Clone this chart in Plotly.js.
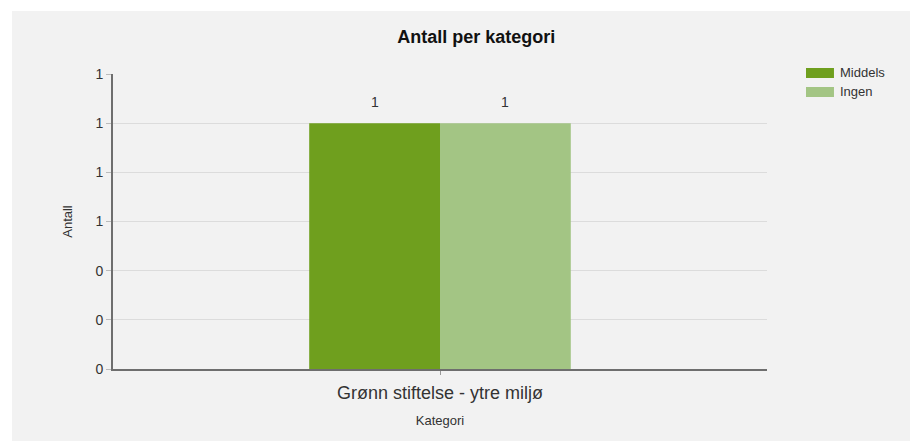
<!DOCTYPE html>
<html>
<head>
<meta charset="utf-8">
<script src="https://cdn.plot.ly/plotly-3.0.1.min.js"></script>
<style>
html,body{margin:0;padding:0;background:#ffffff;overflow:hidden;}
#chart{position:absolute;left:12px;top:11px;width:898px;height:430px;}
</style>
</head>
<body>
<div id="chart"></div>
<script>
const categories = ["Grønn stiftelse - ytre miljø"];
const seriesNames = ["Middels", "Ingen"];
const middelsValues = [1];
const ingenValues = [1];
const yTickValues = [0, 0.2, 0.4, 0.6, 0.8, 1.0, 1.2];
const seriesColors = ["#6f9f1e", "#a3c584"];

const font = "Liberation Sans, Arial, sans-serif";
const seriesValues = [middelsValues, ingenValues];

const W = 898, H = 430;
const margin = {l: 101, r: 143, t: 63, b: 72, pad: 0};
const bargap = 0.6;
const plotW = W - margin.l - margin.r;
const barW = (1 - bargap) * plotW / categories.length / seriesNames.length;

const traces = seriesNames.map((name, i) => ({
  type: "bar", name: name, x: categories, y: seriesValues[i],
  marker: {color: seriesColors[i]}, hoverinfo: "none"
}));

const annotations = [];
seriesNames.forEach((name, i) => {
  const off = (i - (seriesNames.length - 1) / 2) * barW;
  categories.forEach((c, j) => {
    annotations.push({
      x: c, y: seriesValues[i][j], xref: "x", yref: "y",
      text: String(seriesValues[i][j]), showarrow: false,
      xshift: off, yshift: 21, yanchor: "middle",
      font: {family: font, size: 14, color: "#333333"}
    });
  });
});

// legend drawn as shapes + labels
const shapes = [];
const legX0 = 1.0596, legX1 = 1.1024, legTextX = 1.1086;
const legY = [1.0034, 0.939];
const swH = 0.017;
seriesNames.forEach((name, i) => {
  shapes.push({type: "rect", xref: "paper", yref: "paper",
    x0: legX0, x1: legX1, y0: legY[i] - swH, y1: legY[i] + swH,
    fillcolor: seriesColors[i], line: {width: 0}});
  annotations.push({xref: "paper", yref: "paper", x: legTextX, y: legY[i],
    xanchor: "left", yanchor: "middle", text: name, showarrow: false,
    font: {family: font, size: 13, color: "#333333"}});
});

const layout = {
  width: W, height: H,
  paper_bgcolor: "#f2f2f2", plot_bgcolor: "#f2f2f2",
  margin: margin,
  font: {family: font, color: "#333333"},
  title: {text: "<b>Antall per kategori</b>", font: {family: font, size: 18, color: "#111111"},
          x: 0.517, xanchor: "center", y: 0.94, yanchor: "middle"},
  barmode: "group", bargap: bargap, bargroupgap: 0,
  showlegend: false,
  annotations: annotations,
  shapes: shapes,
  xaxis: {
    type: "category",
    title: {text: "Kategori", font: {family: font, size: 13, color: "#333333"}, standoff: 14},
    tickfont: {family: font, size: 18, color: "#333333"},
    ticklabelstandoff: 2,
    showline: true, linecolor: "#6e6e6e", linewidth: 2,
    ticks: "outside", ticklen: 4, tickcolor: "#999999",
    showgrid: false, zeroline: false
  },
  yaxis: {
    range: [0, 1.2], tickvals: yTickValues, tickformat: ".0f",
    title: {text: "Antall", font: {family: font, size: 13, color: "#333333"}, standoff: 20},
    tickfont: {family: font, size: 14, color: "#333333"},
    showline: true, linecolor: "#6e6e6e", linewidth: 2,
    ticks: "outside", ticklen: 5, tickcolor: "#bbbbbb",
    showgrid: true, gridcolor: "#dcdcdc", gridwidth: 1,
    zeroline: false
  }
};

Plotly.newPlot("chart", traces, layout, {displayModeBar: false, staticPlot: true});
</script>
</body>
</html>
